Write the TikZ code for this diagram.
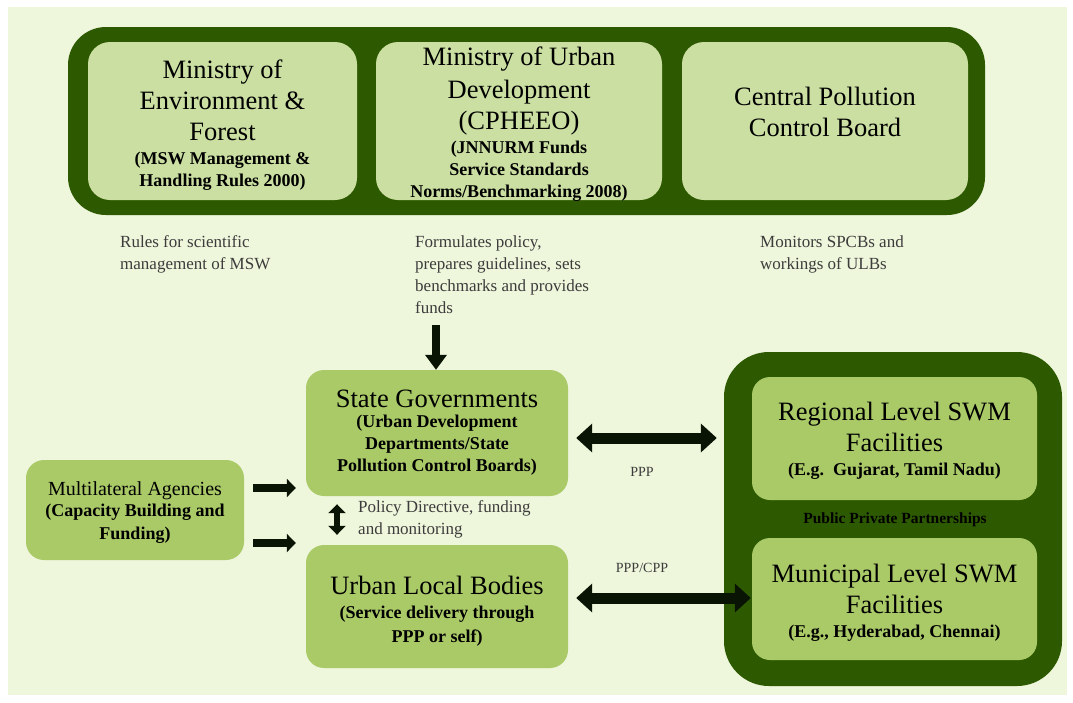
\documentclass[tikz,border=0pt]{standalone}
\usepackage{fontspec}
\setmainfont{Liberation Serif}
\usetikzlibrary{arrows.meta}
\definecolor{dkg}{RGB}{45,90,0}
\definecolor{pale}{RGB}{202,223,161}
\definecolor{midg}{RGB}{170,202,104}
\definecolor{bgc}{RGB}{238,246,219}
\definecolor{arr}{RGB}{10,20,4}
\definecolor{note}{RGB}{60,60,60}
\newcommand\tfont{\fontsize{26.5}{31}\selectfont}
\newcommand\sbold{\fontsize{18}{22}\selectfont\bfseries}
\newcommand\nfont{\fontsize{17}{22}\selectfont}
\begin{document}
\begin{tikzpicture}[x=1pt,y=-1pt,
  outerbox/.style={fill=dkg, draw=none, inner sep=0},
  palebox/.style={fill=pale, draw=none, rounded corners=22pt, inner sep=0},
  midbox/.style={fill=midg, draw=none, rounded corners=18pt, inner sep=0},
  boxtext/.style={align=center, inner sep=0, font=\tfont},
  notetext/.style={text=note, align=left, inner sep=0, font=\nfont},
  arrowA/.style={draw=arr, line width=8pt, -{Triangle[width=21pt,length=15pt]}},
  dblA/.style={draw=arr, line width=11pt, {Triangle[width=28pt,length=16pt]}-{Triangle[width=28pt,length=16pt]}},
  smallA/.style={draw=arr, line width=8pt, -{Triangle[width=18pt,length=9pt]}},
  vdblA/.style={draw=arr, line width=6pt, {Triangle[width=17pt,length=9pt]}-{Triangle[width=17pt,length=9pt]}}
]
\useasboundingbox (0,0) rectangle (1073,702);
\fill[white] (0,0) rectangle (1073,702);
\node[fill=bgc, minimum width=1059pt, minimum height=688pt, inner sep=0] (bg) at (537.5,351) {};

% top group
\node[outerbox, rounded corners=38pt, minimum width=917pt, minimum height=188pt] (top) at (526.5,121) {};
\node[palebox, minimum width=269pt, minimum height=158pt,
  label={[boxtext, name=moeft, yshift=-4.5pt]center:{Ministry of\\Environment \&\\Forest\\[-7pt]{\sbold (MSW Management \&}\\[-9pt]{\sbold Handling Rules 2000)}}}]
  (moef) at (222.5,121) {};
\node[palebox, minimum width=286pt, minimum height=158pt,
  label={[boxtext, name=moudt, yshift=-3.5pt]center:{Ministry of Urban\\[2pt]Development\\(CPHEEO)\\[-7pt]{\sbold (JNNURM Funds}\\[-9pt]{\sbold Service Standards}\\[-9pt]{\sbold Norms/Benchmarking 2008)}}}]
  (moud) at (519,121) {};
\node[palebox, minimum width=286pt, minimum height=158pt,
  label={[boxtext, name=cpcbt, yshift=9pt]center:{Central Pollution\\Control Board}}]
  (cpcb) at (825,121) {};

% notes
\node[notetext, anchor=north west] (n1) at (120,235) {Rules for scientific\\management of MSW};
\node[notetext, anchor=north west] (n2) at (415,235) {Formulates policy,\\prepares guidelines, sets\\benchmarks and provides\\funds};
\node[notetext, anchor=north west] (n3) at (760,235) {Monitors SPCBs and\\workings of ULBs};

% middle
\node[midbox, minimum width=262pt, minimum height=126pt,
  label={[boxtext, name=sgt]center:{State Governments\\[-11pt]{\sbold (Urban Development}\\[-9pt]{\sbold Departments/State}\\[-9pt]{\sbold Pollution Control Boards)}}}]
  (sg) at (437,433) {};
\node[midbox, minimum width=262pt, minimum height=123pt,
  label={[boxtext, name=ulbt, yshift=-4.5pt]center:{Urban Local Bodies\\[-7pt]{\sbold (Service delivery through}\\[-7pt]{\sbold PPP or self)}}}]
  (ulb) at (437,606.5) {};
\node[midbox, minimum width=218pt, minimum height=100pt,
  label={[boxtext, name=mat, yshift=-3pt, font=\fontsize{20}{24}\selectfont]center:{Multilateral Agencies\\[-3pt]{\sbold (Capacity Building and}\\[-1pt]{\sbold Funding)}}}]
  (ma) at (135,510) {};

% right group
\node[outerbox, rounded corners=45pt, minimum width=338pt, minimum height=334pt] (right) at (893,519) {};
\node[midbox, minimum width=285pt, minimum height=123pt,
  label={[boxtext, name=regt, yshift=-2.5pt]center:{Regional Level SWM\\Facilities\\[-7pt]{\sbold (E.g.\ \ Gujarat, Tamil Nadu)}}}]
  (reg) at (894.5,438.5) {};
\node[midbox, minimum width=285pt, minimum height=122pt,
  label={[boxtext, name=munt, yshift=-4pt]center:{Municipal Level SWM\\Facilities\\[-7pt]{\sbold (E.g., Hyderabad, Chennai)}}}]
  (mun) at (894.5,599) {};
\node[inner sep=0, font=\fontsize{15.5}{18}\selectfont\bfseries] (pppt) at (895,520) {Public Private Partnerships};

% labels
\node[text=note, inner sep=0, font=\fontsize{14}{16}\selectfont] (lppp) at (642,472) {PPP};
\node[text=note, inner sep=0, font=\fontsize{14}{16}\selectfont] (lcpp) at (642,568) {PPP/CPP};
\node[notetext, anchor=north west] (lpol) at (358,500) {Policy Directive, funding\\and monitoring};

% arrows
\coordinate (dtop) at (436,325);
\draw[arrowA] (dtop) -- (dtop |- sg.north);
\coordinate (h1) at ([yshift=-5pt]sg.east);
\draw[dblA, shorten <=8pt, shorten >=7pt] (h1) -- (h1 -| right.west);
\coordinate (h2) at ([yshift=8.5pt]ulb.east);
\draw[dblA, shorten <=8pt, shorten >=1pt] (h2) -- (h2 -| mun.west);
\coordinate (m1) at ([yshift=22pt]ma.east);
\coordinate (m2) at ([yshift=-33pt]ma.east);
\draw[smallA, shorten <=9pt, shorten >=10pt] (m1) -- (m1 -| sg.west);
\draw[smallA, shorten <=9pt, shorten >=10pt] (m2) -- (m2 -| ulb.west);
\coordinate (v1) at ([xshift=-100pt]sg.south);
\draw[vdblA, shorten <=8pt, shorten >=10pt] (v1) -- (v1 |- ulb.north);
\end{tikzpicture}
\end{document}
